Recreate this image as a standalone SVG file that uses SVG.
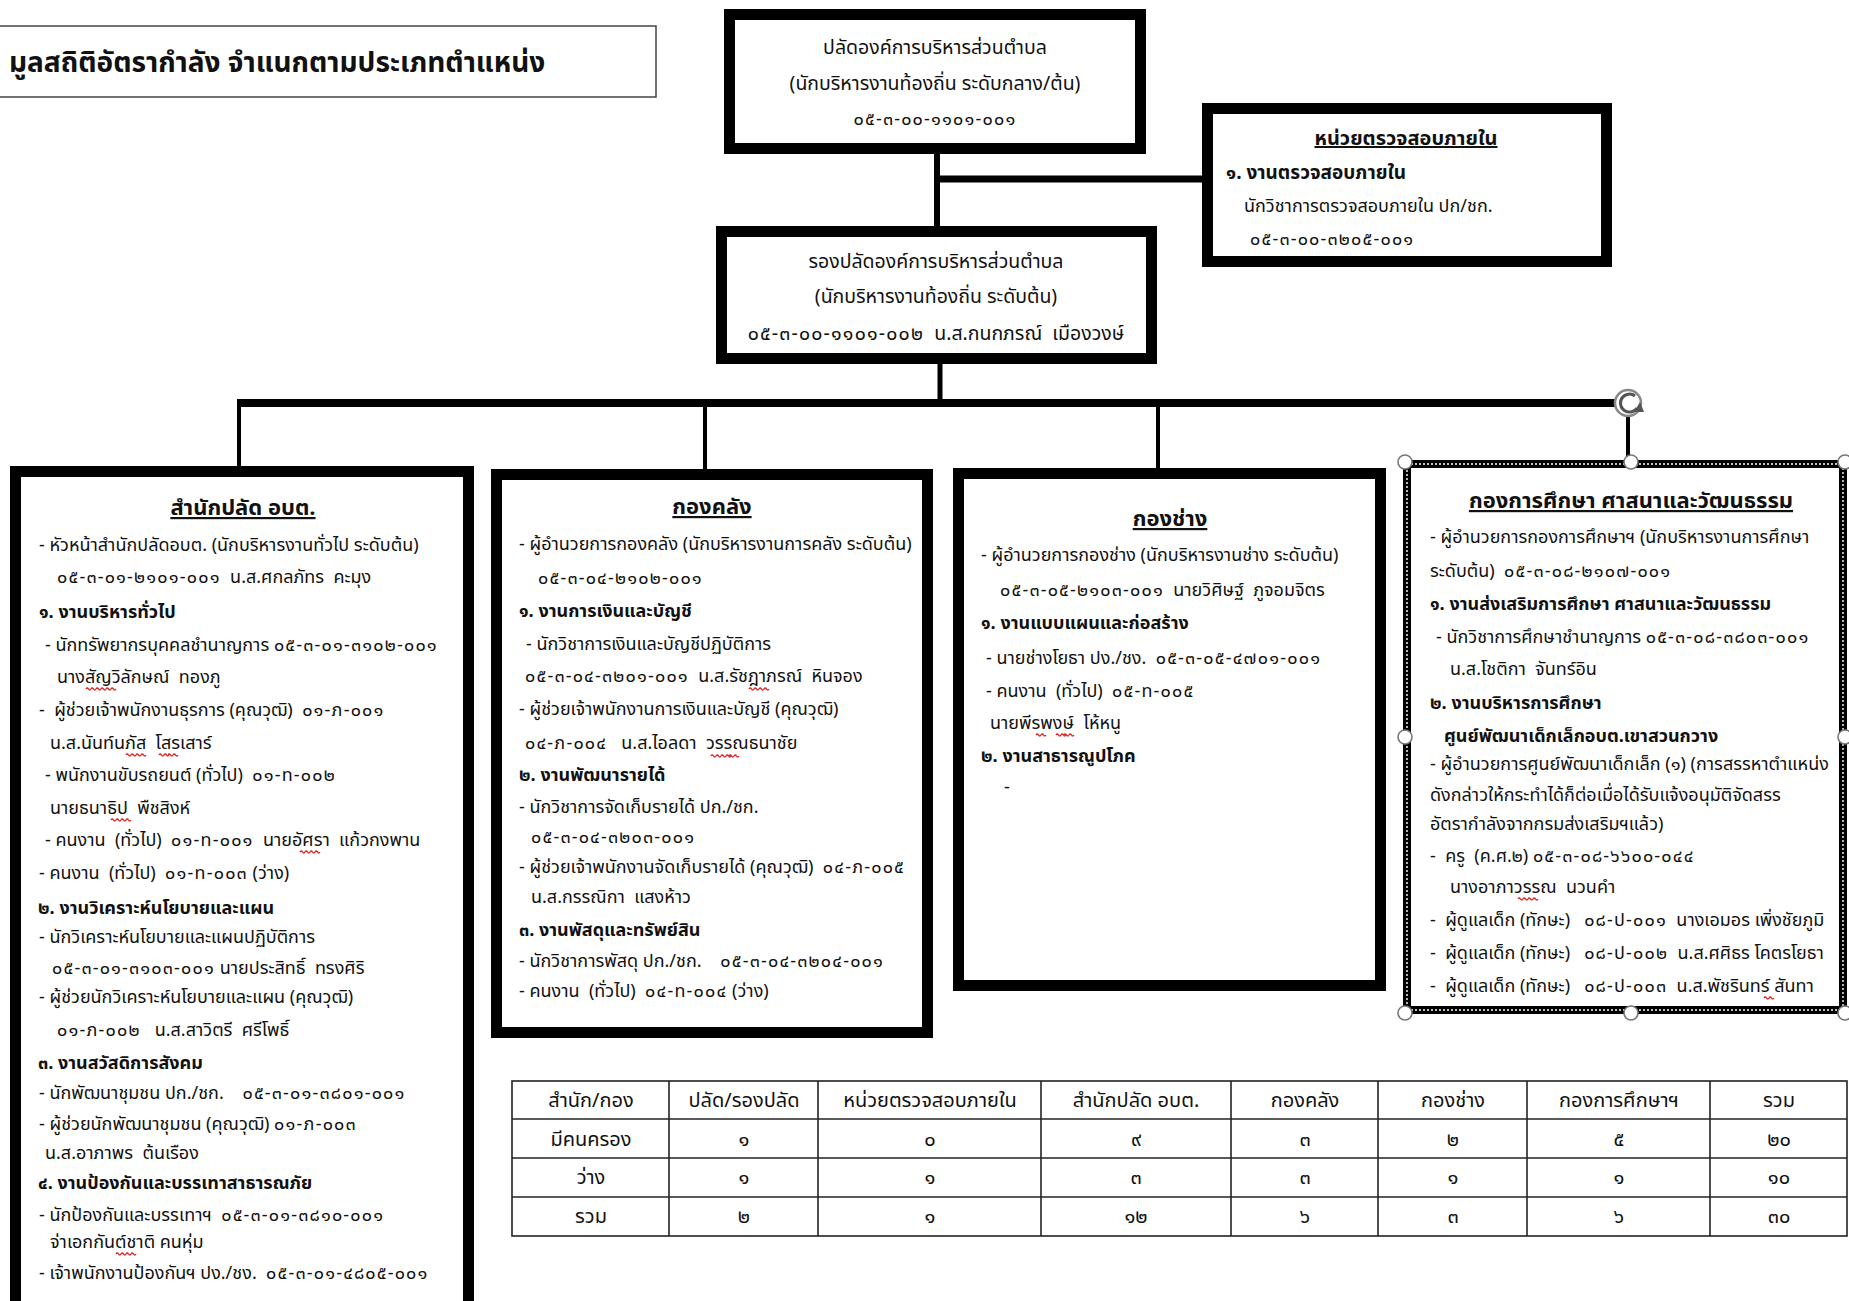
<svg xmlns="http://www.w3.org/2000/svg" width="1849" height="1301" viewBox="0 0 1849 1301">
<style>
text{font-family:"Noto Sans Thai","Tahoma","Loma","Garuda","Noto Sans","DejaVu Sans",sans-serif;fill:#111;font-size:18px;white-space:pre}
.b{font-weight:bold}
.c{text-anchor:middle}
.h{font-weight:bold;font-size:22px;text-decoration:underline;text-anchor:middle}
.n{letter-spacing:1.2px}
.top{font-size:19.5px}
.t{font-size:20px;text-anchor:middle}
.sq{fill:none;stroke:#e02020;stroke-width:1.3}
.box{fill:#fff;stroke:#000;stroke-width:11}
.ln{stroke:#000;fill:none}
.tb{stroke:#222;stroke-width:1.6;fill:none}
.hd{fill:#fff;stroke:#777;stroke-width:1.6}
</style>
<defs>
<path id="wv" d="M0 0q1.25 -2 2.5 0t2.5 0t2.5 0t2.5 0"/>
</defs>
<rect width="1849" height="1301" fill="#fff"/>

<g id="connectors">
<line class="ln" x1="937" y1="150" x2="937" y2="230" stroke-width="6"/>
<line class="ln" x1="937" y1="179" x2="1205" y2="179" stroke-width="7"/>
<line class="ln" x1="940" y1="360" x2="940" y2="404" stroke-width="5"/>
<line class="ln" x1="237" y1="403" x2="1630" y2="403" stroke-width="8"/>
<line class="ln" x1="239" y1="403" x2="239" y2="468" stroke-width="4"/>
<line class="ln" x1="705" y1="403" x2="705" y2="470" stroke-width="4"/>
<line class="ln" x1="1158" y1="403" x2="1158" y2="470" stroke-width="4"/>
<line class="ln" x1="1628" y1="403" x2="1628" y2="462" stroke-width="4"/>
</g>

<g id="title">
<rect x="-1" y="26" width="657" height="71" fill="#fff" stroke="#444" stroke-width="1.5"/>
<text x="9" y="72" class="b" style="font-size:28px">มูลสถิติอัตรากำลัง จำแนกตามประเภทตำแหน่ง</text>
</g>

<g id="node-palad">
<rect class="box" x="729.5" y="14.5" width="411" height="134"/>
<text x="935" y="54" class="c top">ปลัดองค์การบริหารส่วนตำบล</text>
<text x="935" y="90" class="c top">(นักบริหารงานท้องถิ่น ระดับกลาง/ต้น)</text>
<text x="935" y="125" class="c"><tspan class="n">๐๕-๓-๐๐-๑๑๐๑-๐๐๑</tspan></text>
</g>

<g id="node-audit">
<rect class="box" x="1207.5" y="108.5" width="399" height="153"/>
<text x="1406" y="145" class="c b" style="text-decoration:underline;font-size:20px">หน่วยตรวจสอบภายใน</text>
<text x="1226" y="179" class="b" style="font-size:19px">๑. งานตรวจสอบภายใน</text>
<text x="1244" y="212">นักวิชาการตรวจสอบภายใน ปก/ชก.</text>
<text x="1250" y="245"><tspan class="n">๐๕-๓-๐๐-๓๒๐๕-๐๐๑</tspan></text>
</g>

<g id="node-deputy">
<rect class="box" x="721.5" y="231.5" width="430" height="127"/>
<text x="936" y="268" class="c top">รองปลัดองค์การบริหารส่วนตำบล</text>
<text x="936" y="303" class="c top">(นักบริหารงานท้องถิ่น ระดับต้น)</text>
<text x="936" y="340" class="c top"><tspan class="n">๐๕-๓-๐๐-๑๑๐๑-๐๐๒</tspan>  น.ส.กนกภรณ์  เมืองวงษ์</text>
</g>

<g id="node-office">
<rect class="box" x="15.5" y="471.5" width="453" height="835"/>
<text x="243" y="515" class="h">สำนักปลัด อบต.</text>
<text x="39" y="551">- หัวหน้าสำนักปลัดอบต. (นักบริหารงานทั่วไป ระดับต้น)</text>
<text x="57" y="583"><tspan class="n">๐๕-๓-๐๑-๒๑๐๑-๐๐๑</tspan>  น.ส.ศกลภัทร  คะมุง</text>
<text x="39" y="618" class="b">๑. งานบริหารทั่วไป</text>
<text x="45" y="651">- นักทรัพยากรบุคคลชำนาญการ <tspan class="n">๐๕-๓-๐๑-๓๑๐๒-๐๐๑</tspan></text>
<text x="57" y="683">นางสัญวิลักษณ์  ทองภู</text>
<text x="39" y="716">-  ผู้ช่วยเจ้าพนักงานธุรการ (คุณวุฒิ)  <tspan class="n">๐๑-ภ-๐๐๑</tspan></text>
<text x="50" y="749">น.ส.นันท์นภัส  โสรเสาร์</text>
<text x="45" y="781">- พนักงานขับรถยนต์ (ทั่วไป)  <tspan class="n">๐๑-ท-๐๐๒</tspan></text>
<text x="50" y="814">นายธนาธิป  พืชสิงห์</text>
<text x="45" y="846">- คนงาน  (ทั่วไป)  <tspan class="n">๐๑-ท-๐๐๑</tspan>  นายอัศรา  แก้วกงพาน</text>
<text x="39" y="879">- คนงาน  (ทั่วไป)  <tspan class="n">๐๑-ท-๐๐๓</tspan> (ว่าง)</text>
<text x="38" y="914" class="b">๒. งานวิเคราะห์นโยบายและแผน</text>
<text x="39" y="943">- นักวิเคราะห์นโยบายและแผนปฏิบัติการ</text>
<text x="52" y="974"><tspan class="n">๐๕-๓-๐๑-๓๑๐๓-๐๐๑</tspan> นายประสิทธิ์  ทรงศิริ</text>
<text x="39" y="1003">- ผู้ช่วยนักวิเคราะห์นโยบายและแผน (คุณวุฒิ)</text>
<text x="57" y="1036"><tspan class="n">๐๑-ภ-๐๐๒</tspan>   น.ส.สาวิตรี  ศรีโพธิ์</text>
<text x="38" y="1069" class="b">๓. งานสวัสดิการสังคม</text>
<text x="39" y="1099">- นักพัฒนาชุมชน ปก./ชก.    <tspan class="n">๐๕-๓-๐๑-๓๘๐๑-๐๐๑</tspan></text>
<text x="39" y="1130">- ผู้ช่วยนักพัฒนาชุมชน (คุณวุฒิ) <tspan class="n">๐๑-ภ-๐๐๓</tspan></text>
<text x="45" y="1159">น.ส.อาภาพร  ต้นเรือง</text>
<text x="38" y="1189" class="b">๔. งานป้องกันและบรรเทาสาธารณภัย</text>
<text x="39" y="1221">- นักป้องกันและบรรเทาฯ  <tspan class="n">๐๕-๓-๐๑-๓๘๑๐-๐๐๑</tspan></text>
<text x="50" y="1248">จ่าเอกกันต์ชาติ คนหุ่ม</text>
<text x="39" y="1279">- เจ้าพนักงานป้องกันฯ ปง./ชง.  <tspan class="n">๐๕-๓-๐๑-๔๘๐๕-๐๐๑</tspan></text>
<g class="sq">
<use href="#wv" x="86" y="689"/><use href="#wv" x="96" y="689"/><use href="#wv" x="106" y="689"/>
<use href="#wv" x="126" y="755"/><use href="#wv" x="136" y="755"/>
<use href="#wv" x="159" y="755"/><use href="#wv" x="168" y="755"/>
<use href="#wv" x="111" y="820"/><use href="#wv" x="121" y="820"/>
<use href="#wv" x="300" y="852"/><use href="#wv" x="310" y="852"/>
<use href="#wv" x="116" y="1254"/><use href="#wv" x="126" y="1254"/>
</g>
</g>

<g id="node-finance">
<rect class="box" x="496.5" y="474.5" width="431" height="558"/>
<text x="712" y="514" class="h">กองคลัง</text>
<text x="519" y="550">- ผู้อำนวยการกองคลัง (นักบริหารงานการคลัง ระดับต้น)</text>
<text x="538" y="584"><tspan class="n">๐๕-๓-๐๔-๒๑๐๒-๐๐๑</tspan></text>
<text x="519" y="617" class="b">๑. งานการเงินและบัญชี</text>
<text x="526" y="650">- นักวิชาการเงินและบัญชีปฏิบัติการ</text>
<text x="525" y="682"><tspan class="n">๐๕-๓-๐๔-๓๒๐๑-๐๐๑</tspan>  น.ส.รัชฎาภรณ์  หินจอง</text>
<text x="519" y="715">- ผู้ช่วยเจ้าพนักงานการเงินและบัญชี (คุณวุฒิ)</text>
<text x="525" y="749"><tspan class="n">๐๔-ภ-๐๐๔</tspan>   น.ส.ไอลดา  วรรณธนาชัย</text>
<text x="519" y="781" class="b">๒. งานพัฒนารายได้</text>
<text x="519" y="813">- นักวิชาการจัดเก็บรายได้ ปก./ชก.</text>
<text x="531" y="843"><tspan class="n">๐๕-๓-๐๔-๓๒๐๓-๐๐๑</tspan></text>
<text x="519" y="873">- ผู้ช่วยเจ้าพนักงานจัดเก็บรายได้ (คุณวุฒิ)  <tspan class="n">๐๔-ภ-๐๐๕</tspan></text>
<text x="531" y="903">น.ส.กรรณิกา  แสงห้าว</text>
<text x="519" y="936" class="b">๓. งานพัสดุและทรัพย์สิน</text>
<text x="519" y="967">- นักวิชาการพัสดุ ปก./ชก.    <tspan class="n">๐๕-๓-๐๔-๓๒๐๔-๐๐๑</tspan></text>
<text x="519" y="997">- คนงาน  (ทั่วไป)  <tspan class="n">๐๔-ท-๐๐๔</tspan> (ว่าง)</text>
<g class="sq">
<use href="#wv" x="749" y="689"/><use href="#wv" x="759" y="689"/>
<use href="#wv" x="711" y="756"/><use href="#wv" x="721" y="756"/><use href="#wv" x="729" y="756"/>
</g>
</g>

<g id="node-engineering">
<rect class="box" x="958.5" y="473.5" width="422" height="512"/>
<text x="1170" y="526" class="h">กองช่าง</text>
<text x="981" y="561">- ผู้อำนวยการกองช่าง (นักบริหารงานช่าง ระดับต้น)</text>
<text x="1000" y="596"><tspan class="n">๐๕-๓-๐๕-๒๑๐๓-๐๐๑</tspan>  นายวิศิษฐ์  ภูจอมจิตร</text>
<text x="981" y="629" class="b">๑. งานแบบแผนและก่อสร้าง</text>
<text x="986" y="664">- นายช่างโยธา ปง./ชง.  <tspan class="n">๐๕-๓-๐๕-๔๗๐๑-๐๐๑</tspan></text>
<text x="986" y="697">- คนงาน  (ทั่วไป)  <tspan class="n">๐๕-ท-๐๐๕</tspan></text>
<text x="990" y="729">นายพีรพงษ์  โห้หนู</text>
<text x="981" y="762" class="b">๒. งานสาธารณูปโภค</text>
<text x="1004" y="793">-</text>
<g class="sq">
<use href="#wv" x="1036" y="735"/>
<use href="#wv" x="1056" y="735"/><use href="#wv" x="1064" y="735"/>
</g>
</g>

<g id="node-education">
<rect x="1407" y="464" width="436" height="546" fill="#fff" stroke="#000" stroke-width="8"/>
<rect x="1407" y="464" width="436" height="546" fill="none" stroke="#fff" stroke-width="1.4" stroke-dasharray="2 2"/>
<text x="1631" y="508" class="h">กองการศึกษา ศาสนาและวัฒนธรรม</text>
<text x="1430" y="543">- ผู้อำนวยการกองการศึกษาฯ (นักบริหารงานการศึกษา</text>
<text x="1430" y="577">ระดับต้น)  <tspan class="n">๐๕-๓-๐๘-๒๑๐๗-๐๐๑</tspan></text>
<text x="1430" y="610" class="b">๑. งานส่งเสริมการศึกษา ศาสนาและวัฒนธรรม</text>
<text x="1436" y="643">- นักวิชาการศึกษาชำนาญการ <tspan class="n">๐๕-๓-๐๘-๓๘๐๓-๐๐๑</tspan></text>
<text x="1450" y="675">น.ส.โชติกา  จันทร์อิน</text>
<text x="1430" y="709" class="b">๒. งานบริหารการศึกษา</text>
<text x="1444" y="742" class="b">ศูนย์พัฒนาเด็กเล็กอบต.เขาสวนกวาง</text>
<text x="1430" y="770">- ผู้อำนวยการศูนย์พัฒนาเด็กเล็ก (๑) (การสรรหาตำแหน่ง</text>
<text x="1430" y="801">ดังกล่าวให้กระทำได้ก็ต่อเมื่อได้รับแจ้งอนุมัติจัดสรร</text>
<text x="1430" y="830">อัตรากำลังจากกรมส่งเสริมฯแล้ว)</text>
<text x="1430" y="862">-  ครู  (ค.ศ.๒) <tspan class="n">๐๕-๓-๐๘-๖๖๐๐-๐๔๔</tspan></text>
<text x="1450" y="893">นางอาภาวรรณ  นวนคำ</text>
<text x="1430" y="926">-  ผู้ดูแลเด็ก (ทักษะ)   <tspan class="n">๐๘-ป-๐๐๑</tspan>  นางเอมอร เพิ่งชัยภูมิ</text>
<text x="1430" y="959">-  ผู้ดูแลเด็ก (ทักษะ)   <tspan class="n">๐๘-ป-๐๐๒</tspan>  น.ส.ศศิธร โคตรโยธา</text>
<text x="1430" y="992">-  ผู้ดูแลเด็ก (ทักษะ)   <tspan class="n">๐๘-ป-๐๐๓</tspan>  น.ส.พัชรินทร์ สันทา</text>
<g class="sq">
<use href="#wv" x="1518" y="899"/><use href="#wv" x="1528" y="899"/>
<use href="#wv" x="1764" y="998"/>
</g>
<circle class="hd" cx="1405" cy="462" r="7"/>
<circle class="hd" cx="1631" cy="462" r="7"/>
<circle class="hd" cx="1845" cy="462" r="7"/>
<circle class="hd" cx="1405" cy="737" r="7"/>
<circle class="hd" cx="1845" cy="737" r="7"/>
<circle class="hd" cx="1405" cy="1013" r="7"/>
<circle class="hd" cx="1631" cy="1013" r="7"/>
<circle class="hd" cx="1845" cy="1013" r="7"/>
<g id="rotate-handle">
<circle cx="1628" cy="403" r="13" fill="#fff" stroke="#888" stroke-width="2.5"/>
<path d="M1635 396 A9 9 0 1 0 1637 408" fill="none" stroke="#555" stroke-width="3"/>
<path d="M1640 402 L1634 412 L1644 412 Z" fill="#555"/>
</g>
</g>

<g id="table">
<rect class="tb" x="512" y="1081" width="1335" height="155"/>
<line class="tb" x1="512" y1="1119" x2="1847" y2="1119"/>
<line class="tb" x1="512" y1="1158" x2="1847" y2="1158"/>
<line class="tb" x1="512" y1="1197" x2="1847" y2="1197"/>
<line class="tb" x1="669" y1="1081" x2="669" y2="1236"/>
<line class="tb" x1="818" y1="1081" x2="818" y2="1236"/>
<line class="tb" x1="1041" y1="1081" x2="1041" y2="1236"/>
<line class="tb" x1="1231" y1="1081" x2="1231" y2="1236"/>
<line class="tb" x1="1378" y1="1081" x2="1378" y2="1236"/>
<line class="tb" x1="1527" y1="1081" x2="1527" y2="1236"/>
<line class="tb" x1="1710" y1="1081" x2="1710" y2="1236"/>
<text x="591" y="1107" class="t">สำนัก/กอง</text>
<text x="744" y="1107" class="t">ปลัด/รองปลัด</text>
<text x="930" y="1107" class="t">หน่วยตรวจสอบภายใน</text>
<text x="1136" y="1107" class="t">สำนักปลัด อบต.</text>
<text x="1305" y="1107" class="t">กองคลัง</text>
<text x="1453" y="1107" class="t">กองช่าง</text>
<text x="1619" y="1107" class="t">กองการศึกษาฯ</text>
<text x="1779" y="1107" class="t">รวม</text>
<text x="591" y="1146" class="t">มีคนครอง</text>
<text x="744" y="1146" class="t">๑</text>
<text x="930" y="1146" class="t">๐</text>
<text x="1136" y="1146" class="t">๙</text>
<text x="1305" y="1146" class="t">๓</text>
<text x="1453" y="1146" class="t">๒</text>
<text x="1619" y="1146" class="t">๕</text>
<text x="1779" y="1146" class="t">๒๐</text>
<text x="591" y="1184" class="t">ว่าง</text>
<text x="744" y="1184" class="t">๑</text>
<text x="930" y="1184" class="t">๑</text>
<text x="1136" y="1184" class="t">๓</text>
<text x="1305" y="1184" class="t">๓</text>
<text x="1453" y="1184" class="t">๑</text>
<text x="1619" y="1184" class="t">๑</text>
<text x="1779" y="1184" class="t">๑๐</text>
<text x="591" y="1223" class="t">รวม</text>
<text x="744" y="1223" class="t">๒</text>
<text x="930" y="1223" class="t">๑</text>
<text x="1136" y="1223" class="t">๑๒</text>
<text x="1305" y="1223" class="t">๖</text>
<text x="1453" y="1223" class="t">๓</text>
<text x="1619" y="1223" class="t">๖</text>
<text x="1779" y="1223" class="t">๓๐</text>
</g>
</svg>
